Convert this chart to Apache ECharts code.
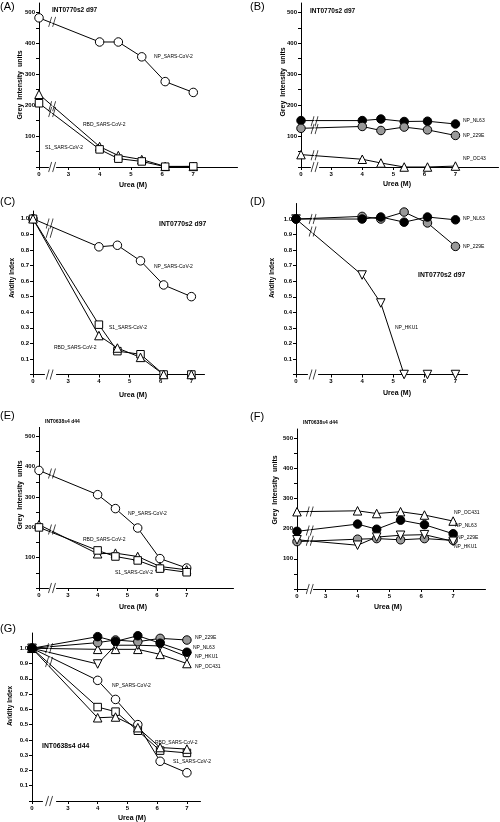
<!DOCTYPE html>
<html><head><meta charset="utf-8">
<script src="https://cdn.jsdelivr.net/npm/echarts@6/dist/echarts.min.js"></script>
<style>html,body{margin:0;padding:0;background:#fff}#c{width:500px;height:822px}</style>
</head><body><div id="c"></div>
<script>
// ---------- data ----------
const urea = [0, 4, 4.6, 5.35, 6.1, 7];
const xTickValues = [0, 3, 4, 5, 6, 7];
const greyLabelValues = [100, 200, 300, 400, 500];
const greyTickValues = [0, 50, 100, 150, 200, 250, 300, 350, 400, 450, 500];
const avidityLabelValues = [0.1, 0.2, 0.3, 0.4, 0.5, 0.6, 0.7, 0.8, 0.9, 1.0];
const avidityTickValues = [0, 0.1, 0.2, 0.3, 0.4, 0.5, 0.6, 0.7, 0.8, 0.9, 1.0];

// (A) INT0770s2 d97 grey intensity
const A_NP = [482, 404, 404, 356, 276, 241];
const A_RBD = [235, 66, 37, 24, 2, 2];
const A_S1 = [206, 57, 27, 18, 1, 2];
const A_breaks = [469, 196, 178, 0];
// (B) INT0770s2 d97 grey intensity
const B_NL63 = [150, 150, 155, 147, 148, 139];
const B_229E = [125, 131, 118, 129, 120, 102];
const B_OC43 = [40, 25, 13, 0, 0, 3];
const B_breaks = [148, 123, 38, 0];
// (C) INT0770s2 d97 avidity
const C_NP = [1.0, 0.82, 0.83, 0.73, 0.575, 0.50];
const C_S1 = [1.0, 0.32, 0.15, 0.13, 0, 0];
const C_RBD = [1.0, 0.25, 0.17, 0.11, 0, 0];
const C_breaks = [0.97, 0.91, 0];
// (D) INT0770s2 d97 avidity
const D_NL63 = [1.0, 1.0, 1.013, 0.98, 1.013, 0.995];
const D_229E = [1.0, 1.017, 1.0, 1.045, 0.975, 0.824];
const D_HKU1 = [1.0, 0.64, 0.46, 0, 0, 0];
const D_breaks = [1.0, 0.92, 0];
// (E) INT0638s4 d44 grey intensity
const E_NP = [388, 308, 262, 198, 97, 66];
const E_RBD = [209, 113, 115, 104, 71, 60];
const E_S1 = [200, 124, 104, 91, 64, 52];
const E_breaks = [378, 193, 0];
// (F) INT0638s4 d44 grey intensity
const F_OC431 = [256, 259, 250, 256, 245, 225];
const F_NL63 = [191, 215, 198, 228, 213, 183];
const F_229E = [157, 165, 167, 163, 167, 161];
const F_HKU1 = [163, 145, 172, 178, 180, 158];
const F_breaks = [257, 194, 160, 0];
// (G) INT0638s4 d44 avidity
const G_229E = [1.0, 1.037, 1.054, 1.043, 1.065, 1.054];
const G_NL63 = [1.0, 1.076, 1.045, 1.082, 1.033, 0.974];
const G_HKU1 = [1.0, 0.897, 1.02, 1.02, 1.015, 0.945];
const G_OC431 = [1.0, 0.993, 0.993, 0.993, 0.96, 0.90];
const G_NP = [1.0, 0.79, 0.665, 0.50, 0.26, 0.185];
const G_S1 = [1.0, 0.615, 0.585, 0.46, 0.33, 0.315];
const G_RBD = [1.0, 0.545, 0.55, 0.48, 0.35, 0.34];
const G_breaks = [1.0, 0.91, 0];

const breakMid = 1.45;

// ---------- layout ----------
const FONT = 'Liberation Sans, Arial, sans-serif';
const panels = [
  {grid:{left:39, top:3, width:198, height:164}, xMax:8.4, brk:[0.3,2.6], gap:'3.8%', yMax:530, kind:'grey',
   series:[['NP_SARS-CoV-2',A_NP,'oc'],['RBD_SARS-CoV-2',A_RBD,'ot'],['S1_SARS-CoV-2',A_S1,'os']], breaks:A_breaks},
  {grid:{left:301, top:3, width:197, height:164}, xMax:8.37, brk:[0.3,2.6], gap:'4.3%', yMax:530, kind:'grey',
   series:[['NP_NL63',B_NL63,'bc'],['NP_229E',B_229E,'gc'],['NP_OC43',B_OC43,'ot']], breaks:B_breaks},
  {grid:{left:33, top:211, width:171, height:163.5}, xMax:7.41, brk:[0.35,2.6], gap:'7%', yMax:1.05, kind:'av',
   series:[['NP_SARS-CoV-2',C_NP,'oc'],['S1_SARS-CoV-2',C_S1,'os'],['RBD_SARS-CoV-2',C_RBD,'ot']], breaks:C_breaks},
  {grid:{left:296, top:203.5, width:171, height:171}, xMax:7.37, brk:[0.35,2.6], gap:'6.8%', yMax:1.1, kind:'av',
   series:[['NP_HKU1',D_HKU1,'dt'],['NP_229E',D_229E,'gc'],['NP_NL63',D_NL63,'bc']], breaks:D_breaks},
  {grid:{left:39, top:427.4, width:194, height:160.6}, xMax:8.56, brk:[0.3,2.6], gap:'4.2%', yMax:530, kind:'grey',
   series:[['NP_SARS-CoV-2',E_NP,'oc'],['RBD_SARS-CoV-2',E_RBD,'ot'],['S1_SARS-CoV-2',E_S1,'os']], breaks:E_breaks},
  {grid:{left:297, top:429, width:188, height:160}, xMax:8.0, brk:[0.3,2.6], gap:'3.4%', yMax:530, kind:'grey',
   series:[['NP_OC431',F_OC431,'ot'],['NP_NL63',F_NL63,'bc'],['NP_229E',F_229E,'gc'],['NP_HKU1',F_HKU1,'dt']], breaks:F_breaks},
  {grid:{left:32, top:633, width:168, height:168}, xMax:7.44, brk:[0.35,2.6], gap:'8.1%', yMax:1.1, kind:'av',
   series:[['NP_SARS-CoV-2',G_NP,'oc'],['S1_SARS-CoV-2',G_S1,'os'],['RBD_SARS-CoV-2',G_RBD,'ot'],
           ['NP_OC431',G_OC431,'ot'],['NP_HKU1',G_HKU1,'dt'],['NP_229E',G_229E,'gc'],['NP_NL63',G_NL63,'bc']], breaks:G_breaks}
];

const symbols = {
  oc:{symbol:'circle', size:8.5, fill:'#fff'},
  os:{symbol:'rect', size:7.5, fill:'#fff'},
  ot:{symbol:'triangle', size:8.5, fill:'#fff'},
  dt:{symbol:'triangle', size:8.5, fill:'#fff', rotate:180},
  bc:{symbol:'circle', size:8.5, fill:'#000'},
  gc:{symbol:'circle', size:8.5, fill:'#999'}
};

const grids = [], xAxes = [], yAxes = [], series = [];
const axisText = {fontSize:6, fontWeight:'bold', color:'#000', fontFamily:FONT};
panels.forEach((p, i) => {
  grids.push(Object.assign({containLabel:false}, p.grid));
  xAxes.push({
    type:'value', gridIndex:i, min:0, max:p.xMax,
    breaks:[{start:p.brk[0], end:p.brk[1], gap:p.gap}],
    breakArea:{show:false},
    axisLine:{show:true, onZero:false, lineStyle:{color:'#000', width:1}},
    axisTick:{show:true, customValues:xTickValues, length:3, lineStyle:{color:'#000'}},
    axisLabel:Object.assign({customValues:xTickValues, margin:4}, axisText),
    splitLine:{show:false}
  });
  const grey = p.kind === 'grey';
  yAxes.push({
    type:'value', gridIndex:i, min:0, max:p.yMax,
    axisLine:{show:true, lineStyle:{color:'#000', width:1}},
    axisTick:{show:true, customValues:grey ? greyTickValues : avidityTickValues, length:3, lineStyle:{color:'#000'}},
    axisLabel:Object.assign({customValues:grey ? greyLabelValues : avidityLabelValues, margin:4,
      formatter: v => grey ? String(v) : v.toFixed(1)}, axisText),
    splitLine:{show:false}
  });
  p.series.forEach(([name, vals, key]) => {
    const s = symbols[key];
    series.push({
      type:'line', name, xAxisIndex:i, yAxisIndex:i, clip:false,
      data: urea.map((x, k) => [x, vals[k]]),
      symbol:s.symbol, symbolSize:s.size, symbolRotate:s.rotate || 0,
      showAllSymbol:true,
      itemStyle:{color:s.fill, borderColor:'#000', borderWidth:1},
      lineStyle:{color:'#000', width:1},
      emphasis:{disabled:true}, z:3
    });
  });
  // axis-break marks "//"
  series.push({
    type:'scatter', xAxisIndex:i, yAxisIndex:i, clip:false, silent:true,
    data: p.breaks.map(v => [breakMid, v]),
    symbol:'path://M1.5,10L4.5,0L5.5,0L2.5,10Z', symbolSize:[4, 10],
    itemStyle:{color:'#fff', borderWidth:0}, z:6
  });
  series.push({
    type:'scatter', xAxisIndex:i, yAxisIndex:i, clip:false, silent:true,
    data: p.breaks.map(v => [breakMid, v]),
    symbol:'path://M0,10L3,0M4,10L7,0', symbolSize:[7, 10],
    itemStyle:{color:'transparent', borderColor:'#000', borderWidth:1}, z:7
  });
});

// ---------- texts ----------
const g = [];
function txt(x, y, text, size, bold, extra) {
  g.push(Object.assign({type:'text', x, y, silent:true, z:20,
    style:{text, fontSize:size, fontWeight:bold ? 'bold' : 'normal', fill:'#000', fontFamily:FONT,
      align:'left', verticalAlign:'middle'}}, extra || {}));
}
function vtxt(x, y, text, size) {
  g.push({type:'text', x, y, rotation:Math.PI/2, silent:true, z:20,
    style:{text, fontSize:size, fontWeight:'bold', fill:'#000', fontFamily:FONT, align:'center', verticalAlign:'middle'}});
}
function ctxt(x, y, text, size) {
  g.push({type:'text', x, y, silent:true, z:20,
    style:{text, fontSize:size, fontWeight:'bold', fill:'#000', fontFamily:FONT, align:'center', verticalAlign:'middle'}});
}
// panel letters
txt(0, 7, '(A)', 11, false); txt(250, 7, '(B)', 11, false);
txt(0, 202, '(C)', 11, false); txt(250, 202, '(D)', 11, false);
txt(0, 416, '(E)', 11, false); txt(250, 417, '(F)', 11, false);
txt(0, 629, '(G)', 11, false);
// titles
txt(52, 10, 'INT0770s2 d97', 6.5, true); txt(310, 11, 'INT0770s2 d97', 6.5, true);
txt(159, 224, 'INT0770s2 d97', 6.8, true); txt(418, 275, 'INT0770s2 d97', 6.8, true);
txt(45, 422, 'INT0638s4 d44', 5, true); txt(303, 423, 'INT0638s4 d44', 5, true);
txt(42, 746, 'INT0638s4 d44', 6.8, true);
// axis titles
vtxt(20, 85, 'Grey  Intensity  units', 7); vtxt(283, 82, 'Grey  Intensity  units', 7);
vtxt(12, 278, 'Avidity Index', 6.5); vtxt(272, 278, 'Avidity Index', 6.5);
vtxt(20, 495, 'Grey  Intensity  units', 7); vtxt(275, 490, 'Grey  Intensity  units', 7);
vtxt(10, 706, 'Avidity Index', 6.5);
ctxt(133, 185, 'Urea (M)', 7); ctxt(397, 184, 'Urea (M)', 7);
ctxt(133, 395, 'Urea (M)', 7); ctxt(397, 393, 'Urea (M)', 7);
ctxt(133, 607, 'Urea (M)', 7); ctxt(388, 607, 'Urea (M)', 7);
ctxt(132, 818, 'Urea (M)', 7);
// series labels
const L = 5;
txt(154, 57, 'NP_SARS-CoV-2', L); txt(83, 125, 'RBD_SARS-CoV-2', L); txt(45, 148, 'S1_SARS-CoV-2', L);
txt(463, 121, 'NP_NL63', L); txt(463, 136, 'NP_229E', L); txt(463, 159, 'NP_OC43', L);
txt(154, 267, 'NP_SARS-CoV-2', L); txt(109, 328, 'S1_SARS-CoV-2', L); txt(54, 348, 'RBD_SARS-CoV-2', L);
txt(463, 219, 'NP_NL63', L); txt(463, 247, 'NP_229E', L); txt(395, 328, 'NP_HKU1', L);
txt(128, 514, 'NP_SARS-CoV-2', L); txt(83, 540, 'RBD_SARS-CoV-2', L); txt(115, 573, 'S1_SARS-CoV-2', L);
txt(454, 513, 'NP_OC431', L); txt(455, 526, 'NP_NL63', L); txt(457, 538, 'NP_229E', L); txt(454, 547, 'NP_HKU1', L);
txt(195, 638, 'NP_229E', L); txt(193, 648, 'NP_NL63', L); txt(195, 657, 'NP_HKU1', L); txt(195, 667, 'NP_OC431', L);
txt(112, 686, 'NP_SARS-CoV-2', L); txt(155, 743, 'RBD_SARS-CoV-2', L); txt(173, 762, 'S1_SARS-CoV-2', L);

const chart = echarts.init(document.getElementById('c'), null, {renderer:'canvas'});
chart.setOption({
  animation:false, backgroundColor:'#fff',
  grid:grids, xAxis:xAxes, yAxis:yAxes, series, graphic:g
});
</script></body></html>
